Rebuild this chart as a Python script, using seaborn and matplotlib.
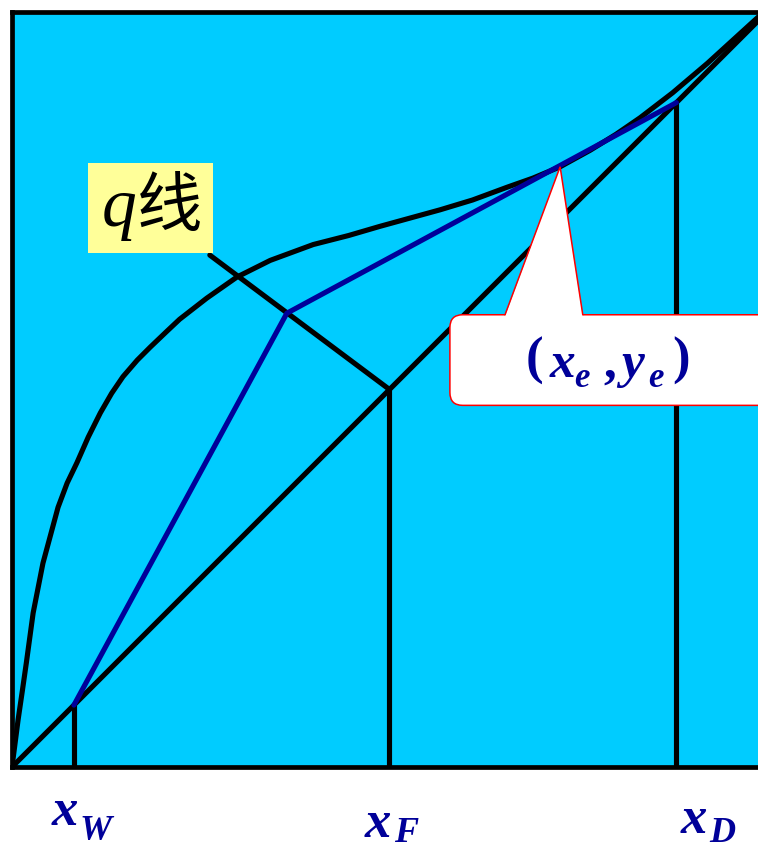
import matplotlib
matplotlib.use("Agg")
import matplotlib.pyplot as plt
import numpy as np
import pandas as pd
import seaborn as sns
from matplotlib.patches import FancyBboxPatch, Polygon, Rectangle

# ---- data ----
eq_x = [0.0, 0.008, 0.014, 0.019, 0.028, 0.041, 0.061, 0.073, 0.086, 0.101,
        0.117, 0.132, 0.147, 0.166, 0.183, 0.205, 0.222, 0.258, 0.298, 0.342,
        0.399, 0.446, 0.487, 0.567, 0.610, 0.656, 0.690, 0.726, 0.766, 0.800,
        0.832, 0.875, 0.921, 0.988, 1.0]
eq_y = [0.0, 0.062, 0.103, 0.138, 0.204, 0.270, 0.344, 0.376, 0.403, 0.437,
        0.469, 0.495, 0.517, 0.539, 0.556, 0.577, 0.593, 0.621, 0.649, 0.671,
        0.692, 0.704, 0.716, 0.738, 0.751, 0.768, 0.780, 0.795, 0.817, 0.838,
        0.860, 0.893, 0.932, 0.993, 1.0]
diag_x = [0.0, 1.0]
diag_y = [0.0, 1.0]
x_W, x_F, x_D = 0.082, 0.50, 0.88
q_start_x, q_start_y = 0.262, 0.678
q_int_x, q_int_y = 0.364, 0.601
tangent_x, tangent_y = 0.726, 0.795
comp_main = ["x", "x", "x"]
comp_sub = ["W", "F", "D"]
q_label_latin, q_label_cjk = "q", "线"

# ---- style ----
sns.set_theme(style="white")

NAVY = "#000099"
lw = 3.7
SERIF = "Liberation Serif"

fig = plt.figure(figsize=(7.58, 8.52), dpi=100)
fig.patch.set_facecolor("white")
ax = fig.add_axes([12 / 758, 85 / 852, 755 / 758, 755 / 852])
ax.set_facecolor("#00CCFF")
ax.set_xlim(0, 1)
ax.set_ylim(0, 1)
for s in ax.spines.values():
    s.set_color("black")
    s.set_linewidth(3.4)
    s.set_visible(True)
ax.set_xticks([])
ax.set_yticks([])

kw = dict(estimator=None, sort=False, ax=ax, legend=False)

# diagonal
sns.lineplot(x=diag_x, y=diag_y, color="black", lw=lw, **kw)
# equilibrium curve
eq = pd.DataFrame({"x": eq_x, "y": eq_y})
sns.lineplot(data=eq, x="x", y="y", color="black", lw=lw, **kw)
# vertical lines
for xv in [x_W, x_F, x_D]:
    sns.lineplot(x=[xv, xv], y=[0, xv], color="black", lw=lw, **kw)
# q-line
sns.lineplot(x=[q_start_x, x_F], y=[q_start_y, x_F], color="black", lw=lw, **kw)
# operating lines
ops = pd.DataFrame({"x": [x_W, q_int_x, x_D], "y": [x_W, q_int_y, x_D]})
sns.lineplot(data=ops, x="x", y="y", color=NAVY, lw=lw, **kw)
ax.set_xlabel("")
ax.set_ylabel("")

# callout
box_left, box_bottom, box_top = 0.580, 0.479, 0.599
callout = FancyBboxPatch((box_left, box_bottom), 0.6, box_top - box_bottom,
                         boxstyle="round,pad=0,rounding_size=0.017",
                         fc="white", ec="red", lw=1.1, zorder=5, clip_on=False)
ax.add_patch(callout)
b1, b2 = 0.653, 0.756
tri = Polygon([(b1, box_top - 0.002), (tangent_x, tangent_y), (b2, box_top - 0.002)],
              closed=True, fc="white", ec="none", zorder=6)
ax.add_patch(tri)
ax.plot([b1, tangent_x, b2], [box_top, tangent_y, box_top], color="red", lw=1.1,
        zorder=7, solid_joinstyle="miter")

tk = dict(color=NAVY, va="baseline", ha="left", family=SERIF,
          fontweight="bold", clip_on=False)
ax.text(0.680, 0.521, "(", fontsize=38, zorder=8, **tk)
ax.text(0.712, 0.517, "x", fontsize=37, style="italic", zorder=8, **tk)
ax.text(0.745, 0.503, "e", fontsize=25, style="italic", zorder=8, **tk)
ax.text(0.783, 0.517, ",", fontsize=37, zorder=8, **tk)
ax.text(0.807, 0.517, "y", fontsize=37, style="italic", zorder=8, **tk)
ax.text(0.842, 0.503, "e", fontsize=25, style="italic", zorder=8, **tk)
ax.text(0.874, 0.521, ")", fontsize=38, zorder=8, **tk)

# q label
ax.add_patch(Rectangle((0.1007, 0.681), 0.165, 0.119, fc="#FFFF99", ec="none", zorder=5))
ax.text(0.119, 0.716, q_label_latin, family=SERIF, style="italic",
        fontsize=50, va="baseline", ha="left", color="black", zorder=6)
ax.text(0.166, 0.717, q_label_cjk, family=["Noto Sans CJK SC", "DejaVu Sans"],
        fontsize=47, va="baseline", ha="left", color="black", zorder=6)

# composition labels
main_pos = [(0.053, -0.077), (0.467, -0.093), (0.886, -0.088)]
sub_pos = [(0.090, -0.097), (0.506, -0.100), (0.923, -0.100)]
for (mx, my), (sx, sy), m, s in zip(main_pos, sub_pos, comp_main, comp_sub):
    ax.text(mx, my, m, fontsize=38, style="italic", **tk)
    ax.text(sx, sy, s, fontsize=26, style="italic", **tk)

fig.savefig("out.png", dpi=100)
